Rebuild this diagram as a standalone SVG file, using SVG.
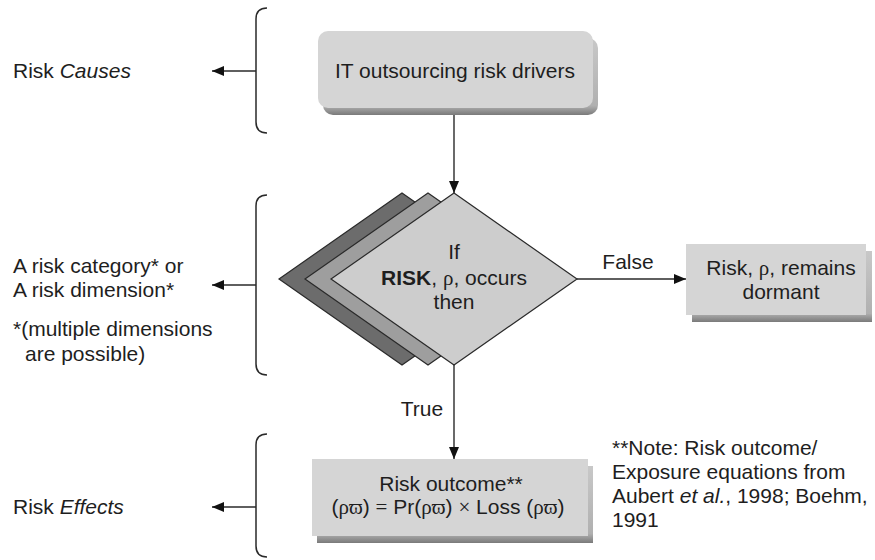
<svg xmlns="http://www.w3.org/2000/svg" width="875" height="560" viewBox="0 0 875 560">
<style>
.t{font-family:"Liberation Sans",Arial,sans-serif;font-size:21px;fill:#1e1e1e}
.c{text-anchor:middle}
.g{font-family:"Liberation Serif","DejaVu Serif",serif}
.ln{stroke:#2a2a2a;stroke-width:1.4;fill:none}
.br{stroke:#2a2a2a;stroke-width:1.5;fill:none}
.face{fill:#d5d5d5}
.sh{fill:url(#shg)}
.dm{stroke:#2a2a2a;stroke-width:1.2;stroke-linejoin:miter}
</style>
<defs>
<linearGradient id="shg" x1="0" y1="0" x2="0" y2="1">
<stop offset="0" stop-color="#c8c8c8"/>
<stop offset="0.88" stop-color="#b0b0b0"/>
<stop offset="1" stop-color="#7a7a7a"/>
</linearGradient>
<marker id="ah" markerUnits="userSpaceOnUse" markerWidth="12" markerHeight="10" refX="12" refY="5" orient="auto">
<path d="M0,0 L12,5 L0,10 z" fill="#111"/>
</marker>
</defs>
<rect width="875" height="560" fill="#fff"/>

<g id="braces">
<path class="br" d="M267,8 Q256,8 256,19 V122 Q256,133 267,133"/>
<path class="br" d="M267,195 Q256,195 256,206 V364 Q256,375 267,375"/>
<path class="br" d="M267,434 Q256,434 256,445 V546 Q256,557 267,557"/>
</g>

<g id="connectors">
<line class="ln" x1="256" y1="71" x2="212" y2="71" marker-end="url(#ah)"/>
<line class="ln" x1="256" y1="285" x2="212" y2="285" marker-end="url(#ah)"/>
<line class="ln" x1="256" y1="507" x2="212" y2="507" marker-end="url(#ah)"/>
<line class="ln" x1="454" y1="115" x2="454" y2="193" marker-end="url(#ah)"/>
<line class="ln" x1="577" y1="279" x2="686" y2="279" marker-end="url(#ah)"/>
<line class="ln" x1="454" y1="365" x2="454" y2="459" marker-end="url(#ah)"/>
<text class="t c" x="628" y="269">False</text>
<text class="t c" x="422" y="416">True</text>
</g>

<g id="labels">
<text class="t" x="13" y="78">Risk <tspan font-style="italic">Causes</tspan></text>
<text class="t" x="13" y="273">A risk category* or</text>
<text class="t" x="13" y="297">A risk dimension*</text>
<text class="t" x="13" y="336">*(multiple dimensions</text>
<text class="t" x="25" y="361">are possible)</text>
<text class="t" x="13" y="514">Risk <tspan font-style="italic">Effects</tspan></text>
</g>

<g id="drivers">
<rect class="sh" x="323" y="38" width="275" height="77" rx="10"/>
<rect class="face" x="318" y="31" width="275" height="77" rx="10"/>
<text class="t c" x="455" y="78">IT outsourcing risk drivers</text>
</g>

<g id="decision">
<polygon class="dm" fill="#6c6c6c" points="402,193 525,279 402,365 279,279"/>
<polygon class="dm" fill="#9e9e9e" points="428,193 551,279 428,365 305,279"/>
<polygon class="dm" fill="#cdcdcd" points="454,193 577,279 454,365 331,279"/>
<text class="t c" x="454" y="259">If</text>
<text class="t c" x="454" y="285"><tspan font-weight="bold">RISK</tspan>, <tspan class="g">ρ</tspan>, occurs</text>
<text class="t c" x="454" y="309">then</text>
</g>

<g id="dormant">
<rect class="sh" x="692" y="251" width="180" height="71"/>
<rect class="face" x="686" y="244" width="180" height="71"/>
<text class="t c" x="781" y="275">Risk, <tspan class="g">ρ</tspan>, remains</text>
<text class="t c" x="781" y="299">dormant</text>
</g>

<g id="outcome">
<rect class="sh" x="317" y="466" width="276" height="77"/>
<rect class="face" x="312" y="459" width="276" height="77"/>
<text class="t c" x="451" y="491">Risk outcome**</text>
<text class="t c" x="448" y="514">(<tspan class="g">ρϖ</tspan>) <tspan class="g">=</tspan> Pr(<tspan class="g">ρϖ</tspan>) <tspan class="g">×</tspan> Loss (<tspan class="g">ρϖ</tspan>)</text>
</g>

<g id="note">
<text class="t" x="612" y="455">**Note: Risk outcome/</text>
<text class="t" x="612" y="479">Exposure equations from</text>
<text class="t" x="612" y="503">Aubert <tspan font-style="italic">et al.</tspan>, 1998; Boehm,</text>
<text class="t" x="612" y="527">1991</text>
</g>
</svg>
